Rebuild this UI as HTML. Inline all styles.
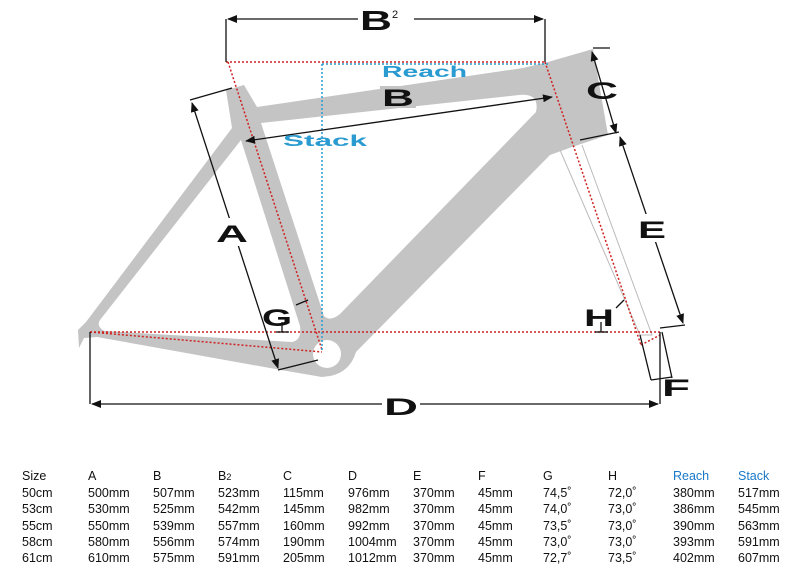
<!DOCTYPE html>
<html><head><meta charset="utf-8"><style>
body{margin:0;background:#fff;width:800px;height:588px;overflow:hidden;font-family:"Liberation Sans",sans-serif}
svg{position:absolute;left:0;top:0}
.t{font-family:"Liberation Sans",sans-serif;font-size:12.5px;fill:#111}
.L{font-family:"Liberation Sans",sans-serif;font-weight:bold;font-size:24px;fill:#111}
</style></head><body>
<svg width="800" height="588" viewBox="0 0 800 588">
<defs>
<marker id="ar" markerWidth="10" markerHeight="8" refX="9" refY="4" orient="auto-start-reverse" markerUnits="userSpaceOnUse"><path d="M0,0 L10,4 L0,8 z" fill="#111"/></marker>
</defs>
<!-- frame silhouette -->
<path d="M226,90 L244,85 L257,107 L523,68 L548,62 L593,49 L608,135 L572,147 L550,155 L356,352 Q350,372 330,376 L322,377 L281,370 L97,337 L84,338 L79,348 L78,330 L86,322 L232,128 Z" fill="#c4c4c4"/>
<path d="M261,123 L519,95 Q540,93 536,112 L340,314 Q330,322 324,316 Z" fill="#fff"/>
<path d="M241,140 L300,326 Q302,340 292,342 L104,331 Q96,326 100,320 Z" fill="#fff"/>
<circle cx="327" cy="354" r="14" fill="#fff"/>
<!-- fork -->
<path d="M560,150 L640,335 L652,335 L582,145" fill="none" stroke="#bbb" stroke-width="1"/>
<!-- dotted lines -->
<g fill="none" stroke="#d02020" stroke-width="1.5" stroke-dasharray="2,2">
<line x1="226" y1="62" x2="545" y2="62"/>
<line x1="228" y1="62" x2="322" y2="350"/>
<line x1="545" y1="62" x2="641" y2="345"/>
<line x1="90" y1="332" x2="660" y2="332"/>
<line x1="90" y1="332" x2="322" y2="352"/>
<line x1="641" y1="345" x2="660" y2="335"/>
</g>
<g fill="none" stroke="#2a9bd0" stroke-width="1.5" stroke-dasharray="2,2">
<line x1="322" y1="64" x2="322" y2="350"/>
<line x1="322" y1="64" x2="548" y2="64"/>
</g>
<!-- dimension lines -->
<g stroke="#111" stroke-width="1.3" fill="none">
<line x1="226" y1="19" x2="226" y2="62"/><line x1="545" y1="19" x2="545" y2="62"/>
<line x1="228" y1="19" x2="543" y2="19" marker-start="url(#ar)" marker-end="url(#ar)"/>
<line x1="246" y1="141" x2="552" y2="97" marker-start="url(#ar)" marker-end="url(#ar)"/>
<line x1="190" y1="100" x2="232" y2="88"/><line x1="278" y1="370" x2="318" y2="360"/>
<line x1="192" y1="103" x2="278" y2="368" marker-start="url(#ar)" marker-end="url(#ar)"/>
<line x1="593" y1="48" x2="610" y2="48"/>
<line x1="592" y1="52" x2="616" y2="133" marker-start="url(#ar)" marker-end="url(#ar)"/>
<line x1="580" y1="140" x2="619" y2="132"/>
<line x1="620" y1="137" x2="683" y2="323" marker-start="url(#ar)" marker-end="url(#ar)"/>
<line x1="660" y1="328" x2="685" y2="325"/>
<line x1="90" y1="332" x2="90" y2="404"/><line x1="660" y1="332" x2="660" y2="404"/>
<line x1="92" y1="404" x2="658" y2="404" marker-start="url(#ar)" marker-end="url(#ar)"/>
<line x1="640" y1="335" x2="651" y2="380"/><line x1="662" y1="332" x2="672" y2="378"/>
<line x1="651" y1="380" x2="672" y2="377"/>
<line x1="296" y1="305" x2="308" y2="300"/>
<line x1="282" y1="332" x2="282" y2="322"/><line x1="276" y1="332" x2="289" y2="332"/>
<line x1="601" y1="332" x2="601" y2="322"/><line x1="595" y1="332" x2="608" y2="332"/>
<line x1="616" y1="308" x2="624" y2="300"/>
</g>
<g class="L">
<rect x="358" y="8" width="56" height="24" fill="#fff"/>
<text x="360" y="30" font-size="28" textLength="32" lengthAdjust="spacingAndGlyphs">B</text>
<text x="392" y="18" font-size="11" font-weight="normal">2</text>
<rect x="380" y="86" width="36" height="22" fill="#c4c4c4"/>
<text x="382" y="106" textLength="32" lengthAdjust="spacingAndGlyphs">B</text>
<text x="586" y="99" textLength="32" lengthAdjust="spacingAndGlyphs">C</text>
<rect x="636" y="214" width="32" height="28" fill="#fff"/>
<text x="638" y="238" textLength="28" lengthAdjust="spacingAndGlyphs">E</text>
<rect x="214" y="218" width="36" height="28" fill="#fff"/>
<text x="216" y="242" textLength="32" lengthAdjust="spacingAndGlyphs">A</text>
<text x="262" y="326" textLength="30" lengthAdjust="spacingAndGlyphs">G</text>
<text x="584" y="326" textLength="30" lengthAdjust="spacingAndGlyphs">H</text>
<rect x="382" y="392" width="38" height="26" fill="#fff"/>
<text x="384" y="415" textLength="34" lengthAdjust="spacingAndGlyphs">D</text>
<text x="662" y="396" textLength="28" lengthAdjust="spacingAndGlyphs">F</text>
</g>
<g font-family="Liberation Sans,sans-serif" font-weight="bold" font-size="16" fill="#2a9bd0">
<text x="382" y="77" textLength="85" lengthAdjust="spacingAndGlyphs">Reach</text>
<text x="283" y="146" textLength="84" lengthAdjust="spacingAndGlyphs">Stack</text>
</g>
<g class="t">
<text y="480"><tspan x="22">Size</tspan><tspan x="88">A</tspan><tspan x="153">B</tspan><tspan x="218">B</tspan><tspan font-size="9">2</tspan><tspan x="283">C</tspan><tspan x="348">D</tspan><tspan x="413">E</tspan><tspan x="478">F</tspan><tspan x="543">G</tspan><tspan x="608">H</tspan><tspan x="673" fill="#1a78c8">Reach</tspan><tspan x="738" fill="#1a78c8">Stack</tspan></text>
<text y="497"><tspan x="22">50cm</tspan><tspan x="88">500mm</tspan><tspan x="153">507mm</tspan><tspan x="218">523mm</tspan><tspan x="283">115mm</tspan><tspan x="348">976mm</tspan><tspan x="413">370mm</tspan><tspan x="478">45mm</tspan><tspan x="543">74,5˚</tspan><tspan x="608">72,0˚</tspan><tspan x="673">380mm</tspan><tspan x="738">517mm</tspan></text>
<text y="513"><tspan x="22">53cm</tspan><tspan x="88">530mm</tspan><tspan x="153">525mm</tspan><tspan x="218">542mm</tspan><tspan x="283">145mm</tspan><tspan x="348">982mm</tspan><tspan x="413">370mm</tspan><tspan x="478">45mm</tspan><tspan x="543">74,0˚</tspan><tspan x="608">73,0˚</tspan><tspan x="673">386mm</tspan><tspan x="738">545mm</tspan></text>
<text y="530"><tspan x="22">55cm</tspan><tspan x="88">550mm</tspan><tspan x="153">539mm</tspan><tspan x="218">557mm</tspan><tspan x="283">160mm</tspan><tspan x="348">992mm</tspan><tspan x="413">370mm</tspan><tspan x="478">45mm</tspan><tspan x="543">73,5˚</tspan><tspan x="608">73,0˚</tspan><tspan x="673">390mm</tspan><tspan x="738">563mm</tspan></text>
<text y="546"><tspan x="22">58cm</tspan><tspan x="88">580mm</tspan><tspan x="153">556mm</tspan><tspan x="218">574mm</tspan><tspan x="283">190mm</tspan><tspan x="348">1004mm</tspan><tspan x="413">370mm</tspan><tspan x="478">45mm</tspan><tspan x="543">73,0˚</tspan><tspan x="608">73,0˚</tspan><tspan x="673">393mm</tspan><tspan x="738">591mm</tspan></text>
<text y="562"><tspan x="22">61cm</tspan><tspan x="88">610mm</tspan><tspan x="153">575mm</tspan><tspan x="218">591mm</tspan><tspan x="283">205mm</tspan><tspan x="348">1012mm</tspan><tspan x="413">370mm</tspan><tspan x="478">45mm</tspan><tspan x="543">72,7˚</tspan><tspan x="608">73,5˚</tspan><tspan x="673">402mm</tspan><tspan x="738">607mm</tspan></text>
</g>
</svg>
</body></html>
